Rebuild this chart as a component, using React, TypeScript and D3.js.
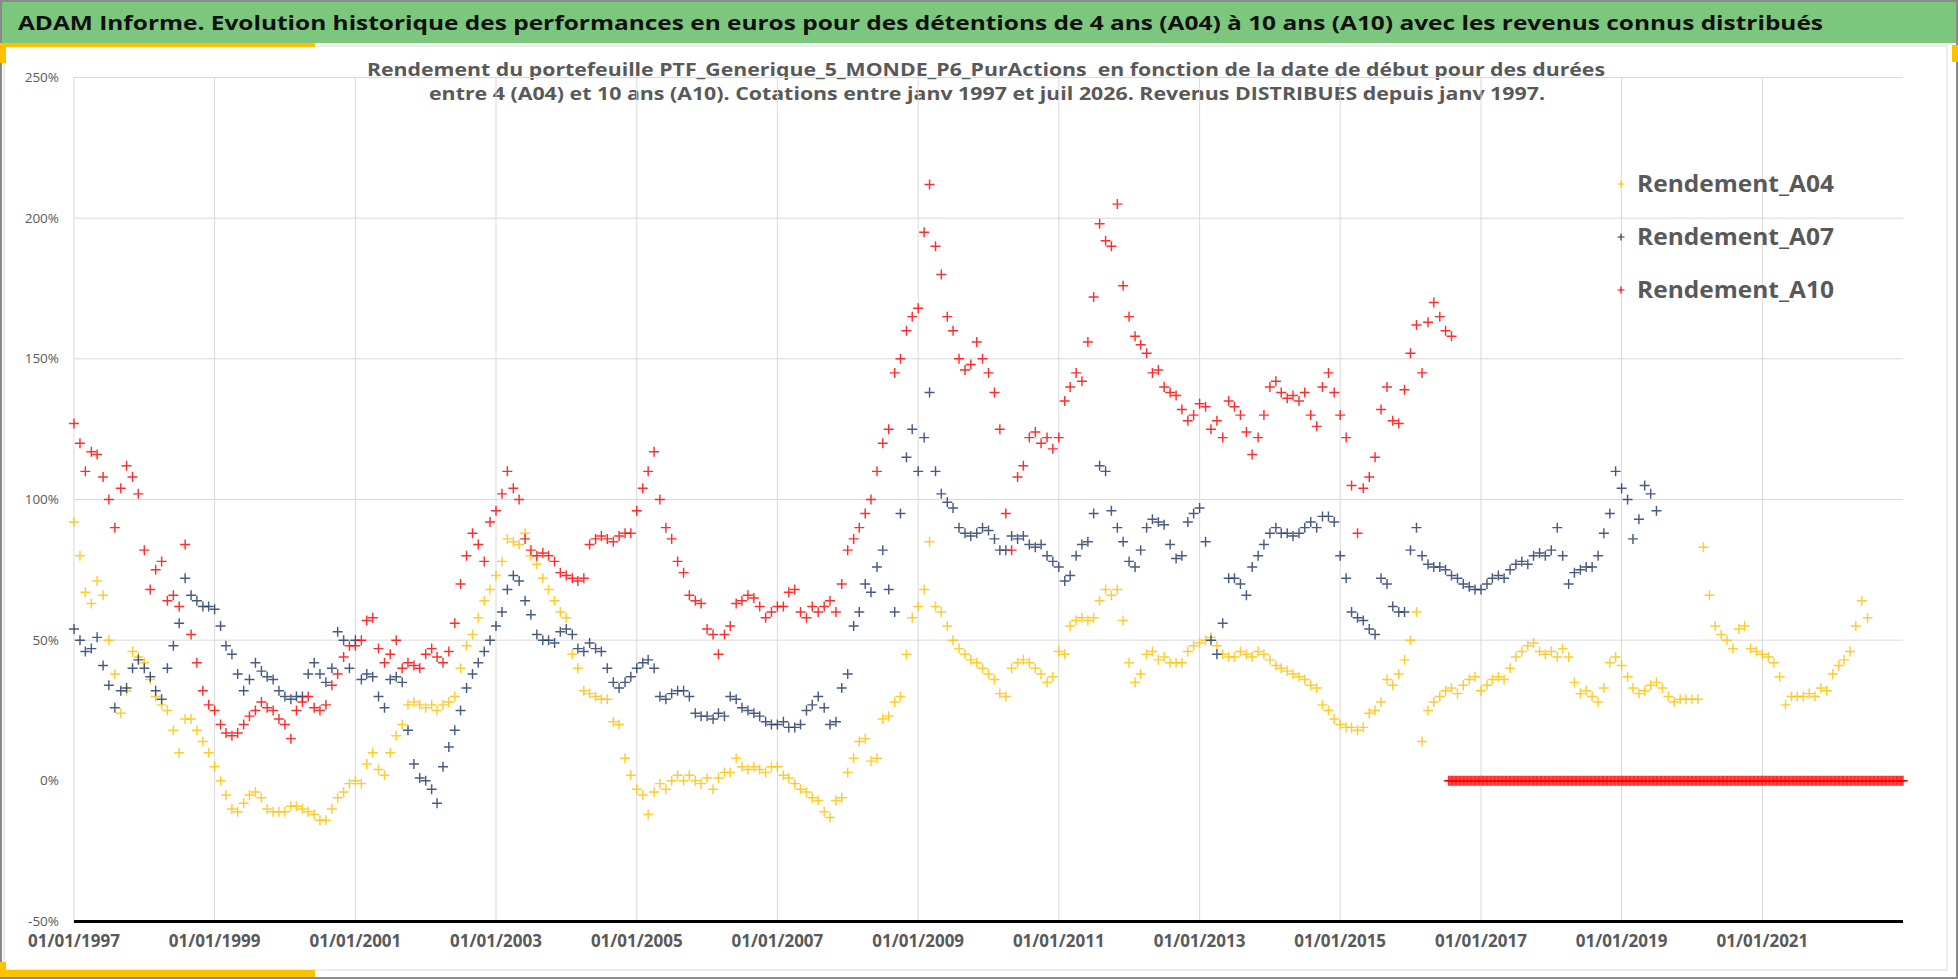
import React from 'react';
import * as d3 from 'd3';

// Rendement mensuel (en %), un point par mois à partir de janv 1997
const a04Start = '1997-01-01';
const a04Values = [
    92, 80, 67, 63, 71, 66, 50, 38, 24, 32, 46, 44,
    42, 36, 30, 27, 25, 18, 10, 22, 22, 18, 14, 10,
    5, 0, -5, -10, -11, -8, -5, -4, -6, -10, -11, -11,
    -11, -9, -9, -10, -11, -12, -14, -14, -10, -6, -4, -1,
    0, -1, 6, 10, 4, 2, 10, 16, 20, 27, 28, 27,
    26, 27, 25, 27, 28, 30, 40, 48, 52, 58, 64, 68,
    73, 78, 86, 85, 84, 88, 80, 77, 72, 68, 64, 60,
    58, 45, 40, 32, 31, 30, 29, 29, 21, 20, 8, 2,
    -3, -5, -12, -4, -1, -3, 0, 2, 0, 2, 0, -1,
    1, -3, 1, 3, 3, 8, 5, 4, 5, 4, 3, 5,
    5, 2, 1, -1, -3, -4, -6, -7, -11, -13, -7, -6,
    3, 8, 14, 15, 7, 8, 22, 23, 28, 30, 45, 58,
    62, 68, 85, 62, 60, 55, 50, 47, 45, 43, 42, 40,
    38, 36, 31, 30, 40, 42, 43, 42, 40, 38, 35, 37,
    46, 45, 55, 57, 58, 57, 58, 64, 68, 66, 68, 57,
    42, 35, 38, 45, 46, 43, 44, 42, 42, 42, 46, 48,
    49, 50, 51, 48, 45, 44, 44, 46, 45, 44, 46, 45,
    43, 41, 40, 39, 38, 37, 36, 34, 33, 27, 25, 22,
    20, 19, 19, 18, 19, 24, 25, 28, 36, 34, 38, 43,
    50, 60, 14, 25, 28, 30, 32, 33, 31, 34, 36, 37,
    32, 34, 36, 37, 36, 40, 44, 46, 48, 49, 46, 45,
    46, 44, 47, 44, 35, 31, 32, 30, 28, 33, 42, 44,
    41, 37, 33, 31, 32, 34, 35, 33, 30, 28, 29, 29,
    29, 29, 83, 66, 55, 52, 50, 47, 54, 55, 47, 46,
    45, 44, 42, 37, 27, 30, 30, 30, 31, 30, 33, 32,
    38, 41, 43, 46, 55, 64, 58,
];

const a07Start = '1997-01-01';
const a07Values = [
    54, 50, 46, 47, 51, 41, 34, 26, 32, 33, 40, 43,
    40, 37, 32, 29, 40, 48, 56, 72, 66, 64, 62, 62,
    61, 55, 48, 45, 38, 32, 36, 42, 39, 37, 36, 32,
    30, 29, 30, 30, 38, 42, 38, 35, 40, 53, 50, 40,
    50, 36, 38, 37, 30, 26, 36, 37, 35, 18, 6, 1,
    0, -3, -8, 5, 12, 18, 25, 33, 38, 42, 46, 50,
    55, 60, 68, 73, 71, 64, 59, 52, 50, 50, 49, 53,
    54, 52, 47, 46, 49, 47, 46, 40, 35, 33, 35, 37,
    40, 42, 43, 40, 30, 29, 31, 32, 32, 30, 24, 23,
    23, 22, 24, 23, 30, 29, 26, 25, 24, 23, 21, 20,
    20, 21, 19, 19, 20, 25, 27, 30, 26, 20, 21, 33,
    38, 55, 60, 70, 67, 76, 82, 68, 60, 95, 115, 125,
    110, 122, 138, 110, 102, 99, 97, 90, 88, 87, 88, 90,
    89, 86, 82, 82, 87, 86, 87, 84, 83, 84, 80, 78,
    76, 71, 73, 80, 84, 85, 95, 112, 110, 96, 90, 85,
    78, 76, 82, 90, 93, 92, 91, 84, 79, 80, 92, 95,
    97, 85, 50, 45, 56, 72, 72, 70, 66, 76, 80, 84,
    88, 90, 88, 88, 87, 88, 90, 92, 90, 94, 94, 92,
    80, 72, 60, 58, 57, 54, 52, 72, 70, 62, 60, 60,
    82, 90, 80, 77, 76, 76, 75, 73, 72, 70, 69, 68,
    68, 70, 72, 73, 72, 75, 77, 78, 77, 80, 81, 80,
    82, 90, 80, 70, 74, 75, 76, 76, 80, 88, 95, 110,
    104, 100, 86, 93, 105, 102, 96,
];

const a10Start = '1997-01-01';
const a10Values = [
    127, 120, 110, 117, 116, 108, 100, 90, 104, 112, 108, 102,
    82, 68, 75, 78, 64, 66, 62, 84, 52, 42, 32, 27,
    25, 20, 17, 16, 17, 20, 23, 25, 28, 26, 25, 22,
    20, 15, 25, 28, 30, 26, 25, 27, 34, 38, 44, 48,
    48, 50, 57, 58, 47, 42, 45, 50, 40, 42, 41, 40,
    45, 47, 44, 42, 46, 56, 70, 80, 88, 84, 78, 92,
    96, 102, 110, 104, 100, 86, 82, 80, 81, 80, 78, 74,
    73, 72, 71, 72, 84, 86, 87, 86, 85, 87, 88, 88,
    96, 104, 110, 117, 100, 90, 86, 78, 74, 66, 64, 63,
    54, 52, 45, 52, 55, 63, 64, 66, 65, 62, 58, 60,
    62, 62, 67, 68, 60, 58, 62, 60, 62, 64, 60, 70,
    82, 86, 90, 95, 100, 110, 120, 125, 145, 150, 160, 165,
    168, 195, 212, 190, 180, 165, 160, 150, 146, 148, 156, 150,
    145, 138, 125, 95, 82, 108, 112, 122, 124, 120, 122, 118,
    122, 135, 140, 145, 142, 156, 172, 198, 192, 190, 205, 176,
    165, 158, 155, 152, 145, 146, 140, 138, 137, 132, 128, 130,
    134, 133, 125, 128, 122, 135, 133, 130, 124, 116, 122, 130,
    140, 142, 138, 136, 137, 135, 138, 130, 126, 140, 145, 138,
    130, 122, 105, 88, 104, 108, 115, 132, 140, 128, 127, 139,
    152, 162, 145, 163, 170, 165, 160, 158,
];

// A10 à 0 % sur la fin de période (juil 2016 -> janv 2023), une cotation par semaine
const a10ZeroStart = '2016-07-15';
const a10ZeroEnd = '2023-01-01';
const a10ZeroValue = 0;

const xTickLabels = [
    '01/01/1997', '01/01/1999', '01/01/2001', '01/01/2003', '01/01/2005', '01/01/2007', '01/01/2009',
    '01/01/2011', '01/01/2013', '01/01/2015', '01/01/2017', '01/01/2019', '01/01/2021',
];
const yTicks = [-50, 0, 50, 100, 150, 200, 250];
const yGrid = [50, 100, 150, 200, 250];
const xDomain = ['1997-01-01', '2023-01-01'];

const seriesNames = ['Rendement_A04', 'Rendement_A07', 'Rendement_A10'];
const seriesColors = ['#FFC000', '#1F3864', '#FF0000'];

const title = 'ADAM Informe. Evolution historique des performances en euros pour des détentions de 4 ans (A04) à 10 ans (A10) avec les revenus connus distribués';
const subtitle1 = 'Rendement du portefeuille PTF_Generique_5_MONDE_P6_PurActions  en fonction de la date de début pour des durées';
const subtitle2 = 'entre 4 (A04) et 10 ans (A10). Cotations entre janv 1997 et juil 2026. Revenus DISTRIBUES depuis janv 1997.';

const W = 1958;
const H = 979;
const margin = { left: 74, right: 1903, top: 77.5, bottom: 921.5 };
const FONT = "'Open Sans', 'Noto Sans', sans-serif";

interface Pt { date: Date; value: number }

const parseIso = d3.timeParse('%Y-%m-%d');
const parseFr = d3.timeParse('%d/%m/%Y');

const monthly = (start: string, values: number[]): Pt[] => {
    const s = parseIso(start) as Date;
    return values.map((v, i) => ({ date: d3.timeMonth.offset(s, i), value: v }));
};

const a04 = monthly(a04Start, a04Values);
const a07 = monthly(a07Start, a07Values);
const a10 = monthly(a10Start, a10Values).concat(
    d3.timeWeek.range(parseIso(a10ZeroStart) as Date, d3.timeDay.offset(parseIso(a10ZeroEnd) as Date, 1))
        .map(d => ({ date: d, value: a10ZeroValue }))
);
const allSeries = [a04, a07, a10];

const plusPath = (s: number) => `M${-s},0H${s}M0,${-s}V${s}`;

const App: React.FC = () => {
    const x = d3.scaleTime()
        .domain(xDomain.map(d => parseIso(d) as Date))
        .range([margin.left, margin.right]);
    const y = d3.scaleLinear().domain([-50, 250]).range([margin.bottom, margin.top]);
    const xTicks = xTickLabels.map(l => ({ label: l, date: parseFr(l) as Date }));

    return (
        <svg width={W} height={H} viewBox={`0 0 ${W} ${H}`}
            style={{ position: 'fixed', left: 0, top: 0, background: '#fff' }}>
            {/* cadre */}
            <rect x={0} y={0} width={W} height={H} fill="#fff" />
            <rect x={0} y={0} width={W - 2} height={43} fill="#7DC67D" />
            <line x1={0} x2={W - 2} y1={44} y2={44} stroke="#e3e3e3" strokeWidth={1} />
            <rect x={4} y={46} width={1943} height={924} fill="none" stroke="#d9d9d9" strokeWidth={1} />
            <rect x={1} y={1} width={W - 2} height={H - 2} fill="none" stroke="#8a8a8a" strokeWidth={2} />
            <g fill="#FFC000">
                <rect x={0} y={43} width={315} height={4} />
                <rect x={0} y={43} width={6} height={20} />
                <rect x={0} y={970} width={315} height={7} />
                <rect x={0} y={962} width={6} height={15} />
                <rect x={1952} y={45} width={6} height={17} />
            </g>

            <text x={18} y={30} fontFamily={FONT} fontWeight={700} fontSize={20} fill="#111"
                textLength={1805} lengthAdjust="spacingAndGlyphs">{title}</text>

            <g fontFamily={FONT} fontWeight={700} fontSize={17} fill="#595959">
                <text x={367} y={76} textLength={1238} lengthAdjust="spacingAndGlyphs" xmlSpace="preserve">{subtitle1}</text>
                <text x={429} y={100} textLength={1116} lengthAdjust="spacingAndGlyphs">{subtitle2}</text>
            </g>

            {/* grille */}
            <g stroke="#d9d9d9" strokeWidth={1}>
                {yGrid.map(v => (
                    <line key={v} x1={margin.left} x2={margin.right} y1={y(v)} y2={y(v)} />
                ))}
                {xTicks.map(t => (
                    <line key={t.label} x1={x(t.date)} x2={x(t.date)} y1={margin.top} y2={margin.bottom} />
                ))}
            </g>

            {/* axe Y */}
            <g fontFamily={FONT} fontSize={13.5} fill="#595959" textAnchor="end">
                {yTicks.map(v => (
                    <text key={v} x={59} y={y(v) + 4.5}>{`${v}%`}</text>
                ))}
            </g>

            {/* séries */}
            {allSeries.map((pts, si) => (
                <g key={si} stroke={seriesColors[si]} strokeWidth={1.45} strokeOpacity={0.82} fill="none">
                    {pts.map((p, i) => (
                        <path key={i} d={plusPath(5)} transform={`translate(${x(p.date)},${y(p.value)})`} />
                    ))}
                </g>
            ))}

            {/* axe X */}
            <line x1={margin.left} x2={margin.right} y1={margin.bottom} y2={margin.bottom} stroke="#000" strokeWidth={3} />
            <g fontFamily={FONT} fontWeight={700} fontSize={17} fill="#595959" textAnchor="middle">
                {xTicks.map(t => (
                    <text key={t.label} x={x(t.date)} y={947}>{t.label}</text>
                ))}
            </g>

            {/* légende */}
            {seriesNames.map((name, i) => {
                const cy = 184 + i * 53;
                return (
                    <g key={name}>
                        <path d={plusPath(3.5)} transform={`translate(1621,${cy})`} stroke={seriesColors[i]} strokeWidth={1.2} />
                        <text x={1637} y={cy + 8} fontFamily={FONT} fontWeight={700} fontSize={23} fill="#595959"
                            textLength={197} lengthAdjust="spacingAndGlyphs">{name}</text>
                    </g>
                );
            })}
        </svg>
    );
};

export default App;
